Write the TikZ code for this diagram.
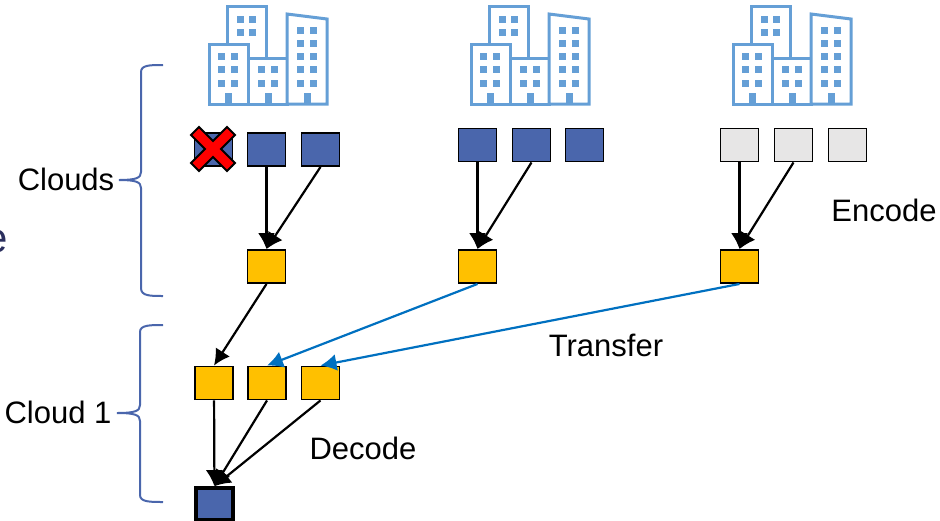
\documentclass[tikz,border=0pt]{standalone}
\usepackage{fontspec}
\setmainfont{Liberation Sans}
\usetikzlibrary{arrows.meta}
\definecolor{bluebox}{HTML}{4A66AC}
\definecolor{yellowbox}{HTML}{FFC000}
\definecolor{greybox}{HTML}{E7E6E6}
\definecolor{cityblue}{HTML}{659FD6}
\definecolor{transferblue}{HTML}{0070C0}
\definecolor{navytext}{HTML}{2B2F5E}
\tikzset{
	box/.style={draw=black,line width=1.9pt,minimum width=38pt,minimum height=33pt,inner sep=0pt},
	datablock/.style={box,fill=bluebox},
	parityblock/.style={box,fill=yellowbox},
	emptyblock/.style={box,fill=greybox},
	flow/.style={draw=black,line width=2.2pt,-{Latex[length=16pt,width=17pt]}},
	transfer/.style={draw=transferblue,line width=2.2pt,-{Latex[length=16pt,width=17pt]}},
	brace/.style={draw=bluebox,line width=2pt},
	wall/.style={draw=cityblue,line width=3pt,fill=white},
	labeltext/.style={font=\fontsize{31}{31}\selectfont,inner sep=0pt},
}
\begin{document}
\begin{tikzpicture}[x=1pt,y=-1pt]
\useasboundingbox (0,0) rectangle (940,520);
\foreach \cityx in {0,262,524}{
\begin{scope}[xshift=\cityx pt]
		\draw[wall] (227,6) rectangle (266.5,60);
		\draw[wall] (209,44) rectangle (248,104);
		\draw[wall] (248,58) rectangle (287,104);
		\draw[wall] (287,14) -- (327,19) -- (327,104) -- (287,104) -- cycle;
		\foreach \winx/\winy in {237/16,249/16,237/29,249/29,218/53,231/53,218/66,231/66,218/80,231/80,258/66,271/66,258/80,271/80,297/27,310/27,297/40,310/40,297/53,310/53,297/66,310/66,297/80,310/80}
			\fill[cityblue] (\winx,\winy) rectangle ++(7,7);
		\foreach \doorx in {225,265,304}
			\fill[cityblue] (\doorx,93) rectangle ++(6.5,11);
\end{scope}
}
		\node[datablock] (A1) at (213.5,149.5) {};
		\node[datablock] (A2) at (266.5,149.5) {};
		\node[datablock] (A3) at (320.5,149.5) {};
		\node[datablock] (B1) at (477.5,145) {};
		\node[datablock] (B2) at (531.5,145) {};
		\node[datablock] (B3) at (584.5,145) {};
		\node[emptyblock] (C1) at (739.5,145) {};
		\node[emptyblock] (C2) at (793.5,145) {};
		\node[emptyblock] (C3) at (847.5,145) {};
		\node[parityblock] (PA) at (266.5,266.5) {};
		\node[parityblock] (PB) at (477.5,266.5) {};
		\node[parityblock] (PC) at (739.5,266.5) {};
		\node[parityblock] (R1) at (214,383) {};
		\node[parityblock] (R2) at (267,383) {};
		\node[parityblock] (R3) at (320.5,383) {};
		\node[datablock,line width=3.6pt,minimum width=37pt,minimum height=32pt] (OUT) at (214.5,504) {};
		\draw[fill=red,draw=black,line width=1.9pt] (213,141) -- (227,127) -- (235,135) -- (221,149) -- (235,163) -- (227,171) -- (213,157) -- (199,171) -- (191,163) -- (205,149) -- (191,135) -- (199,127) -- cycle;
		\draw[flow] (A2) -- (PA);
		\draw[flow] (A3.south) -- (PA.north);
		\draw[flow] (B1) -- (PB);
		\draw[flow] (B2.south) -- (PB.north);
		\draw[flow] (C1) -- (PC);
		\draw[flow] (C2.south) -- (PC.north);
		\draw[flow] (PA.south) -- (R1.north);
		\draw[transfer] (PB.south) -- (R2.north);
		\draw[transfer] (PC.south) -- (R3.north);
		\draw[flow] (R1) -- (OUT);
		\draw[flow] (R2.south) -- (OUT.north);
		\draw[flow] (R3.south) -- (OUT.north);
		\node[labeltext] (CL) at (66,179) {Clouds};
		\node[labeltext] (ONE) at (58,412) {Cloud 1};
		\node[labeltext] (ENC) at (884,210) {Encode};
		\node[labeltext] (TRA) at (606,345) {Transfer};
		\node[labeltext] (DEC) at (363,448) {Decode};
		\node[font=\fontsize{42}{42}\selectfont,text=navytext,inner sep=0pt,anchor=base east] (CUT) at (8,252) {e};
		\coordinate (TIPA) at (119,180);
		\coordinate (TIPB) at (117,413);
		\draw[brace] (163,65) .. controls (150,65) and (141,65) .. (141,72) -- (141,172) .. controls (141,178) and (136,180) .. (TIPA) .. controls (136,180) and (141,182) .. (141,188) -- (141,288) .. controls (141,296) and (150,296) .. (163,296);
		\draw[brace] (163,325) .. controls (150,325) and (140,325) .. (140,332) -- (140,405) .. controls (140,411) and (135,413) .. (TIPB) .. controls (135,413) and (140,415) .. (140,421) -- (140,495) .. controls (140,502) and (150,502) .. (163,502);
\end{tikzpicture}
\end{document}
